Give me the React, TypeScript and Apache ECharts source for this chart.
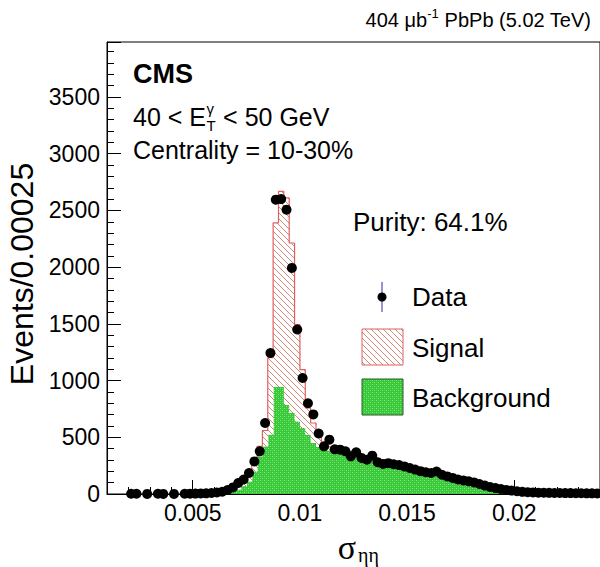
import React, { useEffect, useRef } from "react";
import * as echarts from "echarts";

const X_MIN = 0.001;
const X_MAX = 0.024;
const BIN_WIDTH = 0.00025;
const Y_MAX = 3985;

const xMajorTicks = [0.005, 0.01, 0.015, 0.02];
const xMinorTicks = [0.002, 0.003, 0.004, 0.006, 0.007, 0.008, 0.009, 0.011, 0.012, 0.013, 0.014, 0.016, 0.017, 0.018, 0.019, 0.021, 0.022, 0.023];

// Background template (green), per bin of width 0.00025 starting at 0.001
const background = [
  0, 0, 0, 0, 0, 0, 0, 0, 0, 0, 0, 0, 0, 0, 0, 0, 0,
  1, 1, 2, 4, 7, 12, 22, 40, 70, 111, 199, 332, 420, 524,
  944, 944, 785, 714, 640, 582, 523, 450, 415, 397, 385, 376, 368, 360, 350, 342,
  334, 322, 312, 300, 289, 278, 266, 255, 243, 230, 218, 205, 192, 178, 165, 150,
  137, 123, 110, 96, 82, 68, 54, 40, 27, 16, 7, 2,
  0, 0, 0, 0, 0, 0, 0, 0, 0, 0, 0, 0, 0, 0, 0, 0, 0,
];

// Signal template (hatched), stacked on top of background
const signal = [
  0, 0, 0, 0, 0, 0, 0, 0, 0, 0, 0, 0, 0, 0,
  1, 2, 3, 3, 5, 7, 10, 15, 26, 38, 50, 60, 79, 81, 88, 140, 678,
  1446, 1724, 1825, 1499, 853, 514, 237, 176, 93, 38, 30, 24, 24, 22, 20, 18,
  16, 16, 14, 14, 13, 12, 11, 9, 7, 6, 4, 3, 2, 1,
  0, 0, 0, 0, 0, 0, 0, 0, 0, 0, 0, 0, 0, 0, 0, 0, 0, 0, 0, 0, 0, 0, 0, 0, 0, 0, 0, 0, 0, 0, 0,
];

// Data points (null = empty bin, not drawn)
const data: (number | null)[] = [
  null, null, null, null, 2, 2, null, 1, null, 2, 1, null, 1, null,
  2, 3, 4, 5, 6, 9, 13, 20, 35, 58, 97, 128, 185, 287, 376, 626, 1243,
  2595, 2600, 2507, 1993, 1450, 1023, 800, 702, 533, 420, 479, 394, 391, 376, 332, 367,
  317, 302, 338, 280, 265, 272, 262, 255, 243, 229, 215, 201, 192, 185, 198, 170,
  155, 142, 128, 120, 112, 102, 88, 74, 62, 52, 44, 36, 30, 24, 19, 16, 14, 12,
  11, 10, 9, 9, 8, 8, 7, 7, 6, 6, 5,
];

const FONT = '"Liberation Sans", Arial, sans-serif';
const SERIF = '"Liberation Serif", "DejaVu Serif", serif';

function makeHatch() {
  const s = 6;
  const c = document.createElement("canvas");
  c.width = s;
  c.height = s;
  const ctx = c.getContext("2d")!;
  ctx.fillStyle = "#ffffff";
  ctx.fillRect(0, 0, s, s);
  ctx.strokeStyle = "#cf8a7c";
  ctx.lineWidth = 1;
  ctx.beginPath();
  ctx.moveTo(-1, -1);
  ctx.lineTo(s + 1, s + 1);
  ctx.moveTo(s - 1, -1);
  ctx.lineTo(s + 1, 1);
  ctx.moveTo(-1, s - 1);
  ctx.lineTo(1, s + 1);
  ctx.stroke();
  return { image: c.toDataURL(), repeat: "repeat", imageWidth: s, imageHeight: s };
}

function makeGreen() {
  const s = 4;
  const c = document.createElement("canvas");
  c.width = s;
  c.height = s;
  const ctx = c.getContext("2d")!;
  ctx.fillStyle = "#35c935";
  ctx.fillRect(0, 0, s, s);
  ctx.fillStyle = "#8fe08f";
  ctx.fillRect(0, 0, 1, 1);
  ctx.fillRect(2, 2, 1, 1);
  ctx.fillStyle = "#5ad35a";
  ctx.fillRect(2, 0, 1, 1);
  ctx.fillRect(0, 2, 1, 1);
  return { image: c.toDataURL(), repeat: "repeat", imageWidth: s, imageHeight: s };
}

export default function App() {
  const ref = useRef<HTMLDivElement>(null);
  useEffect(() => {
    document.body.style.margin = "0";
    const chart = echarts.init(ref.current!, undefined, { renderer: "svg" });
    const hatch = makeHatch();
    const green = makeGreen();

    const mctx = document.createElement("canvas").getContext("2d")!;
    const tw = (t: string, size: number, weight = "normal") => {
      mctx.font = `${weight} ${size}px ${FONT}`;
      return mctx.measureText(t).width;
    };

    const edge = (i: number) => X_MIN + i * BIN_WIDTH;
    const bgItems = background.map((b, i) => [edge(i), edge(i + 1), 0, b]);
    const sigItems = signal.map((s, i) => [edge(i), edge(i + 1), background[i], background[i] + s]);

    const first = signal.findIndex((s) => s > 0);
    let last = signal.length - 1;
    while (last > 0 && signal[last] === 0) last--;
    const outline: number[][] = [[edge(first), 0]];
    for (let i = first; i <= last; i++) outline.push([edge(i), background[i] + signal[i]]);
    outline.push([edge(last + 1), background[last] + signal[last]]);

    const points = data
      .map((v, i) => (v == null ? null : [X_MIN + (i + 0.5) * BIN_WIDTH, v]))
      .filter((p) => p !== null);

    const rectItem = (fillStyle: any) => (params: any, api: any) => {
      const p0 = api.coord([api.value(0), api.value(2)]);
      const p1 = api.coord([api.value(1), api.value(3)]);
      const h = p0[1] - p1[1];
      if (h <= 0) return null;
      return {
        type: "rect",
        shape: { x: p0[0], y: p1[1], width: p1[0] - p0[0] + 0.6, height: h },
        style: { fill: fillStyle, stroke: null },
      };
    };

    // Annotation positions
    const F = 25;
    const x0 = 133;
    const yE = 117;
    const w1 = tw("40 < E", F);
    const wSub = Math.max(tw("γ", 15), tw("T", 15));

    const graphic: any[] = [
      {
        type: "text", x: 591, y: 20,
        style: {
          text: "404 μb{sup|-1} PbPb (5.02 TeV)",
          fontSize: 20, fontFamily: FONT, fill: "#000",
          align: "right", verticalAlign: "middle", lineHeight: 26,
          rich: { sup: { fontSize: 13, fontFamily: FONT, lineHeight: 12, verticalAlign: "top", fill: "#000" } },
        },
      },
      { type: "text", x: 133, y: 74, style: { text: "CMS", fontSize: 27, fontWeight: "bold", fontFamily: FONT, fill: "#000", verticalAlign: "middle" } },
      { type: "text", x: x0, y: yE, style: { text: "40 < E", fontSize: F, fontFamily: FONT, fill: "#000", verticalAlign: "middle" } },
      { type: "text", x: x0 + w1 + 0.5, y: yE - 9, style: { text: "γ", fontSize: 15, fontFamily: FONT, fill: "#000", verticalAlign: "middle" } },
      { type: "text", x: x0 + w1 + 0.5, y: yE + 8, style: { text: "T", fontSize: 15, fontFamily: FONT, fill: "#000", verticalAlign: "middle" } },
      { type: "text", x: x0 + w1 + wSub + 1, y: yE, style: { text: " < 50 GeV", fontSize: F, fontFamily: FONT, fill: "#000", verticalAlign: "middle" } },
      { type: "text", x: 133, y: 150, style: { text: "Centrality = 10-30%", fontSize: F, fontFamily: FONT, fill: "#000", verticalAlign: "middle" } },
      { type: "text", x: 353, y: 222, style: { text: "Purity: 64.1%", fontSize: 26, fontFamily: FONT, fill: "#000", verticalAlign: "middle" } },
      // Legend
      { type: "line", shape: { x1: 382, y1: 282, x2: 382, y2: 312 }, style: { stroke: "#2a2aa0", lineWidth: 1 } },
      { type: "circle", shape: { cx: 382, cy: 297, r: 4.5 }, style: { fill: "#000" } },
      { type: "text", x: 412, y: 297, style: { text: "Data", fontSize: 26, fontFamily: FONT, fill: "#000", verticalAlign: "middle" } },
      { type: "rect", shape: { x: 362, y: 329, width: 41, height: 36 }, style: { fill: hatch, stroke: "#e06060", lineWidth: 1 } },
      { type: "text", x: 412, y: 348, style: { text: "Signal", fontSize: 26, fontFamily: FONT, fill: "#000", verticalAlign: "middle" } },
      { type: "rect", shape: { x: 362, y: 379, width: 41, height: 36 }, style: { fill: green, stroke: "#285a28", lineWidth: 1 } },
      { type: "text", x: 412, y: 398, style: { text: "Background", fontSize: 26, fontFamily: FONT, fill: "#000", verticalAlign: "middle" } },
      // Axis titles
      { type: "text", x: 22, y: 274, rotation: Math.PI / 2, style: { text: "Events/0.00025", fontSize: 32, fontFamily: FONT, fill: "#000", align: "center", verticalAlign: "middle" } },
      { type: "text", x: 347, y: 547, style: { text: "σ", fontSize: 34, fontFamily: SERIF, fill: "#000", align: "center", verticalAlign: "middle" } },
      { type: "text", x: 358, y: 555, style: { text: "ηη", fontSize: 20, fontFamily: SERIF, fill: "#000", verticalAlign: "middle" } },
    ];

    const option: any = {
      animation: false,
      backgroundColor: "#ffffff",
      grid: { left: 107, right: -4, top: 42, bottom: 73, show: true, borderColor: "#000", borderWidth: 1, backgroundColor: "transparent" },
      xAxis: [
        {
          type: "value", min: X_MIN, max: X_MAX, position: "bottom",
          axisLine: { show: true, lineStyle: { color: "#000", width: 1 } },
          axisTick: { show: true, inside: true, length: 14, customValues: xMajorTicks, lineStyle: { color: "#000" } },
          axisLabel: { customValues: xMajorTicks, formatter: (v: number) => String(v), fontSize: 23, fontFamily: FONT, color: "#000", margin: 7 },
          splitLine: { show: false },
        },
        {
          type: "value", min: X_MIN, max: X_MAX, position: "bottom",
          axisLine: { show: false },
          axisTick: { show: true, inside: true, length: 7, customValues: xMinorTicks, lineStyle: { color: "#000" } },
          axisLabel: { show: false },
          splitLine: { show: false },
        },
      ],
      yAxis: {
        type: "value", min: 0, max: Y_MAX, interval: 500,
        axisLine: { show: true, lineStyle: { color: "#000", width: 1 } },
        axisTick: { show: true, inside: true, length: 14, lineStyle: { color: "#000" } },
        minorTick: { show: true, splitNumber: 5, length: 7, lineStyle: { color: "#000" } },
        axisLabel: { fontSize: 23, fontFamily: FONT, color: "#000", margin: 7, showMaxLabel: false, formatter: (v: number) => String(v) },
        splitLine: { show: false },
        minorSplitLine: { show: false },
      },
      series: [
        {
          type: "custom", name: "Background", z: 1, clip: true,
          renderItem: rectItem(green),
          encode: { x: [0, 1], y: [2, 3] },
          data: bgItems,
        },
        {
          type: "custom", name: "Signal", z: 2, clip: true,
          renderItem: rectItem(hatch),
          encode: { x: [0, 1], y: [2, 3] },
          data: sigItems,
        },
        {
          type: "line", name: "Total", z: 3, step: "end", symbol: "none",
          lineStyle: { color: "#e06060", width: 1.2 },
          data: outline,
        },
        {
          type: "scatter", name: "Data", z: 4, symbol: "circle", symbolSize: 10,
          itemStyle: { color: "#000", opacity: 1 },
          data: points,
        },
      ],
      graphic,
    };
    chart.setOption(option);
    return () => chart.dispose();
  }, []);
  return <div ref={ref} style={{ width: 600, height: 567 }} />;
}
